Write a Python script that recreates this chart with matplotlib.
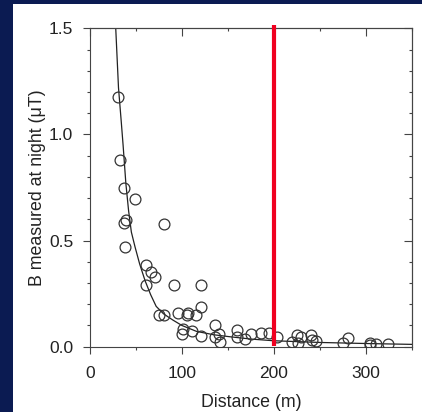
import matplotlib
matplotlib.use("Agg")
import matplotlib.pyplot as plt
from matplotlib.ticker import MultipleLocator

plt.rcParams['font.family'] = ['Liberation Sans', 'DejaVu Sans']

# scatter data (distance in m, B in microtesla)
dist = [30, 33, 37, 49, 39, 37.5, 38, 81, 61, 66, 71, 61, 91.5, 120.5, 120.5,
        75.5, 81, 96, 105, 107, 115, 101, 100.5, 111, 121, 136, 136, 140.5, 141,
        160, 160, 169, 175, 186, 195, 203, 220, 225, 230, 240, 241, 246, 226,
        275, 281, 305, 305, 311.5, 324.5]
bval = [1.175, 0.88, 0.75, 0.695, 0.595, 0.585, 0.468, 0.58, 0.385, 0.353, 0.327,
        0.29, 0.29, 0.292, 0.189, 0.149, 0.149, 0.16, 0.15, 0.157, 0.149, 0.082,
        0.06, 0.076, 0.05, 0.101, 0.047, 0.06, 0.024, 0.078, 0.047, 0.036, 0.058,
        0.064, 0.063, 0.046, 0.024, 0.055, 0.047, 0.053, 0.03, 0.025, 0.016,
        0.019, 0.04, 0.019, 0.008, 0.012, 0.012]

# fitted curve
curve_d = [28, 31, 34, 36, 39, 42, 45, 49, 54, 60, 66, 72, 80, 90, 100, 116,
           135, 152, 175, 200, 250, 300, 350]
curve_b = [1.50, 1.22, 1.06, 0.95, 0.77, 0.64, 0.54, 0.47, 0.39, 0.31, 0.245,
           0.19, 0.155, 0.126, 0.10, 0.072, 0.056, 0.047, 0.036, 0.028, 0.02,
           0.015, 0.011]

marker_x = 200
marker_top = 1.516

xticks = [0, 100, 200, 300]
xticklabels = ['0', '100', '200', '300']
yticks = [0.0, 0.5, 1.0, 1.5]
yticklabels = ['0.0', '0.5', '1.0', '1.5']

fig = plt.figure(figsize=(4.22, 4.12), dpi=100)
fig.patch.set_facecolor('#0b1b52')

bg = fig.add_axes([13 / 422, 0, 1 - 13 / 422, 1 - 4 / 412], zorder=-5)
bg.set_axis_off()
bg.add_patch(plt.Rectangle((0, 0), 1, 1, transform=bg.transAxes,
                           facecolor='white', edgecolor='none'))

ax = fig.add_axes([90 / 422, 65.3 / 412, 321.7 / 422, 318.4 / 412], zorder=1)
ax.set_facecolor('none')

tc = '#222222'
ax.plot(curve_d, curve_b, color='#222222', lw=0.9, zorder=2)
ax.plot(dist, bval, linestyle='none', marker='o', markersize=7.8,
        markerfacecolor='none', markeredgecolor='#333333', markeredgewidth=0.9,
        zorder=3)
ax.plot([marker_x, marker_x], [0.005, marker_top], color='#f00020', lw=3.0,
        solid_capstyle='butt', clip_on=False, zorder=4)

ax.set_xlim(0, 350)
ax.set_ylim(0, 1.5)
ax.set_xticks(xticks)
ax.set_xticklabels(xticklabels)
ax.set_yticks(yticks)
ax.set_yticklabels(yticklabels)
ax.xaxis.set_minor_locator(MultipleLocator(50))
ax.yaxis.set_minor_locator(MultipleLocator(0.1))

for s in ax.spines.values():
    s.set_color('#444444')
    s.set_linewidth(0.8)

ax.tick_params(axis='both', which='both', colors='#444444', labelcolor=tc,
               labelsize=12.5, width=0.8)
ax.tick_params(axis='both', which='major', direction='out', length=5)
ax.tick_params(axis='both', which='minor', direction='out', length=2.5)
ax.tick_params(axis='x', which='major', pad=9)
ax.tick_params(axis='y', which='major', pad=7)

# inward ticks on top and right
axt = ax.secondary_xaxis('top')
axt.set_xticks(xticks)
axt.xaxis.set_minor_locator(MultipleLocator(50))
axt.tick_params(which='major', direction='in', length=6, width=0.8,
                colors='#444444', labeltop=False)
axt.tick_params(which='minor', direction='in', length=2.5, width=0.8,
                colors='#444444')
axr = ax.secondary_yaxis('right')
axr.set_yticks(yticks)
axr.yaxis.set_minor_locator(MultipleLocator(0.1))
axr.tick_params(which='major', direction='in', length=6, width=0.8,
                colors='#444444', labelright=False)
axr.tick_params(which='minor', direction='in', length=2.5, width=0.8,
                colors='#444444')
for s in list(axt.spines.values()) + list(axr.spines.values()):
    s.set_linewidth(0.8)
    s.set_color('#444444')

ax.set_xlabel('Distance (m)', fontsize=12.8, color=tc, labelpad=9)
ax.set_ylabel('B measured at night (\u03bcT)', fontsize=12.8, color=tc)
ax.yaxis.set_label_coords(-0.138, 0.5)

fig.savefig('out.png', dpi=100, facecolor=fig.get_facecolor())
